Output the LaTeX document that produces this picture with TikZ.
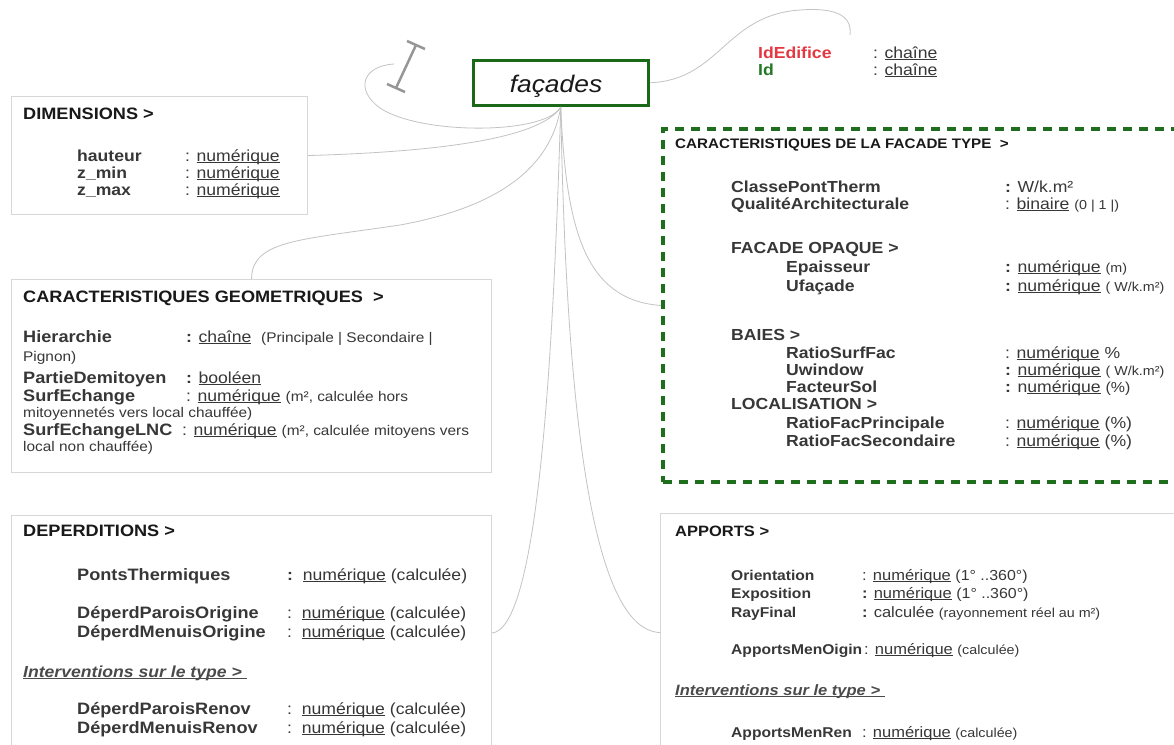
\documentclass[tikz,border=0pt]{standalone}
\usepackage{fontspec}
\setmainfont{Liberation Sans}[FakeStretch=1.1]
\definecolor{fgreen}{RGB}{25,105,25}
\definecolor{ftgreen}{RGB}{30,110,30}
\definecolor{idred}{RGB}{228,55,65}
\definecolor{idgreen}{RGB}{35,120,35}
\definecolor{boxgray}{RGB}{215,215,215}
\definecolor{conngray}{RGB}{195,195,195}
\definecolor{txt}{RGB}{55,55,55}
\definecolor{ttlc}{RGB}{25,25,25}
\definecolor{igray}{RGB}{150,150,150}
\newcommand\ulx[1]{\setbox0\hbox{#1}\rlap{\rule[-2.2pt]{\wd0}{0.9pt}}\box0\relax}
\newcommand\smt[1]{{\fontsize{13}{15}\selectfont #1}}
\newcommand\smb[1]{{\fontsize{14}{16}\selectfont #1}}
\newcommand\mdt[1]{{\fontsize{14.5}{17}\selectfont #1}}
\begin{document}
\begin{tikzpicture}[x=1pt,y=-1pt,
  box/.style={draw=boxgray, line width=1.1pt, inner sep=0pt, anchor=north west},
  conn/.style={draw=conngray, line width=0.8pt},
  t/.style={anchor=base west, inner sep=0pt, text=txt, font=\fontsize{16}{19}\selectfont},
  tb/.style={t, font=\bfseries\fontsize{16}{19}\selectfont},
  tbl/.style={t, font=\bfseries\fontsize{16.5}{19}\selectfont},
  tba/.style={t, font=\bfseries\fontsize{14.2}{17}\selectfont},
  ta/.style={t, font=\fontsize{15}{17}\selectfont},
  ttl/.style={t, text=ttlc, font=\bfseries\fontsize{16.5}{19}\selectfont},
  ttls/.style={t, text=ttlc, font=\bfseries\fontsize{13.8}{17}\selectfont},
  ttla/.style={t, text=ttlc, font=\bfseries\fontsize{15}{17}\selectfont},
  itv/.style={t, text=txt!90, font=\bfseries\itshape\fontsize{16}{19}\selectfont},
  itva/.style={t, text=txt!90, font=\bfseries\itshape\fontsize{15}{17}\selectfont},
  imark/.style={draw=igray, line width=2.5pt},
]
\clip (0,0) rectangle (1174,744);
\fill[white] (0,0) rectangle (1174,744);

% main entity
\node[draw=fgreen, line width=3.5pt, minimum width=175pt, minimum height=45pt, inner sep=0pt, anchor=north west] (fac) at (471.5,58.5) {};
\node[anchor=base, inner sep=0pt, text=ttlc, font=\itshape\fontsize{24}{28}\selectfont] (facl) at (556,92) {façades};

% identifiers
\node[tb, text=idred] (ide) at (758,58) {IdEdifice};
\node[t] (idev) at (873,58) {: \ulx{chaîne}};
\node[tb, text=idgreen] (id) at (758,75) {Id};
\node[t] (idv) at (873,75) {: \ulx{chaîne}};
\coordinate (idend) at (850,35);

% self loop and marker
\coordinate (loopend) at (394,64);
\coordinate (ia) at (416,45);
\coordinate (ib) at (396,88);
\coordinate (ia1) at (407,41);
\coordinate (ia2) at (425,49);
\coordinate (ib1) at (387,84);
\coordinate (ib2) at (405,92);
\draw[imark] (ia) -- (ib);
\draw[imark] (ia1) -- (ia2);
\draw[imark] (ib1) -- (ib2);

% DIMENSIONS
\node[box, minimum width=296pt, minimum height=118pt] (dim) at (11,96) {};
\node[ttl] (dimt) at (23,119) {DIMENSIONS >};
\node[tb] (d1) at (77,161) {hauteur};
\node[tb] (d2) at (77,178) {z\_min};
\node[tb] (d3) at (77,195) {z\_max};
\node[t] (d1v) at (185,161) {: \ulx{numérique}};
\node[t] (d2v) at (185,178) {: \ulx{numérique}};
\node[t] (d3v) at (185,195) {: \ulx{numérique}};

% CARACTERISTIQUES GEOMETRIQUES
\node[box, minimum width=480pt, minimum height=193pt] (cg) at (11,279) {};
\node[ttl] (cgt) at (23,302) {CARACTERISTIQUES GEOMETRIQUES~~>};
\node[tbl] (g1) at (23,342) {Hierarchie};
\node[t] (g1v) at (186,342) {\textbf{:} \ulx{chaîne}~~\smb{(Principale | Secondaire |}};
\node[t] (g1c) at (23,361) {\smb{Pignon)}};
\node[tbl] (g2) at (23,383) {PartieDemitoyen};
\node[t] (g2v) at (186,383) {\textbf{:} \ulx{booléen}};
\node[tbl] (g3) at (23,401) {SurfEchange};
\node[t] (g3v) at (186,401) {: \ulx{numérique} \smb{(m², calculée hors}};
\node[t] (g3c) at (23,417) {\smb{mitoyennetés vers local chauffée)}};
\node[tbl] (g4) at (23,435) {SurfEchangeLNC};
\node[t] (g4v) at (182,435) {: \ulx{numérique} \smb{(m², calculée mitoyens vers}};
\node[t] (g4c) at (23,451) {\smb{local non chauffée)}};

% DEPERDITIONS
\node[box, minimum width=480pt, minimum height=235pt] (dep) at (11,515) {};
\node[ttl] (dept) at (23,536) {DEPERDITIONS >};
\node[tbl] (p1) at (77,580) {PontsThermiques};
\node[t] (p1v) at (287,580) {\textbf{:}~~\ulx{numérique} (calculée)};
\node[tbl] (p2) at (77,618) {DéperdParoisOrigine};
\node[t] (p2v) at (287,618) {:~~\ulx{numérique} (calculée)};
\node[tbl] (p3) at (77,637) {DéperdMenuisOrigine};
\node[t] (p3v) at (287,637) {:~~\ulx{numérique} (calculée)};
\node[itv] (pint) at (23,677) {\ulx{Interventions sur le type >~}};
\node[tbl] (p4) at (77,714) {DéperdParoisRenov};
\node[t] (p4v) at (287,714) {:~~\ulx{numérique} (calculée)};
\node[tbl] (p5) at (77,733) {DéperdMenuisRenov};
\node[t] (p5v) at (287,733) {:~~\ulx{numérique} (calculée)};

% CARACTERISTIQUES DE LA FACADE TYPE
\node[draw=ftgreen, line width=4pt, dash pattern=on 9pt off 7pt, inner sep=0pt, anchor=north west, minimum width=530pt, minimum height=353pt] (ft) at (661,127) {};
\node[ttls] (ftt) at (675,148) {CARACTERISTIQUES DE LA FACADE TYPE~~>};
\node[tb] (f1) at (731,192) {ClassePontTherm};
\node[t] (f1v) at (1005,192) {\textbf{:} W/k.m²};
\node[tb] (f2) at (731,209) {QualitéArchitecturale};
\node[t] (f2v) at (1005,209) {: \ulx{binaire} \smt{(0 | 1 |)}};
\node[tb] (fo) at (731,253) {FACADE OPAQUE >};
\node[tb] (f3) at (786,272) {Epaisseur};
\node[t] (f3v) at (1005,272) {\textbf{:} \ulx{numérique} \smt{(m)}};
\node[tb] (f4) at (786,291) {Ufaçade};
\node[t] (f4v) at (1005,291) {\textbf{:} \ulx{numérique} \smt{( W/k.m²)}};
\node[tb] (fb) at (731,340) {BAIES >};
\node[tb] (f5) at (786,358) {RatioSurfFac};
\node[t] (f5v) at (1005,358) {: \ulx{numérique} \%};
\node[tb] (f6) at (786,375) {Uwindow};
\node[t] (f6v) at (1005,375) {\textbf{:} \ulx{numérique} \smt{( W/k.m²)}};
\node[tb] (f7) at (786,392) {FacteurSol};
\node[t] (f7v) at (1005,392) {\textbf{:} n\ulx{umérique} \mdt{(\%)}};
\node[tb] (fl) at (731,409) {LOCALISATION >};
\node[tb] (f8) at (786,428) {RatioFacPrincipale};
\node[t] (f8v) at (1005,428) {: \ulx{numérique} (\%)};
\node[tb] (f9) at (786,446) {RatioFacSecondaire};
\node[t] (f9v) at (1005,446) {: \ulx{numérique} (\%)};

% APPORTS
\node[box, minimum width=530pt, minimum height=238pt] (app) at (660,513) {};
\node[ttla] (appt) at (675,536) {APPORTS >};
\node[tba] (a1) at (731,580) {Orientation};
\node[ta] (a1v) at (862,580) {: \ulx{numérique} \mdt{(1° ..360°)}};
\node[tba] (a2) at (731,598) {Exposition};
\node[ta] (a2v) at (862,598) {\textbf{:} \ulx{numérique} \mdt{(1° ..360°)}};
\node[tba] (a3) at (731,617) {RayFinal};
\node[ta] (a3v) at (862,617) {\textbf{:} calculée \smt{(rayonnement réel au m²)}};
\node[tba] (a4) at (731,654) {ApportsMenOigin};
\node[ta] (a4v) at (864,654) {: \ulx{numérique} \smt{(calculée)}};
\node[itva] (aint) at (675,695) {\ulx{Interventions sur le type >~}};
\node[tba] (a5) at (731,737) {ApportsMenRen};
\node[ta] (a5v) at (862,737) {: \ulx{numérique} \smt{(calculée)}};

% connectors
\draw[conn] (fac.east) .. controls (720,80) and (725,15) .. (800,10) .. controls (840,7) and (852,18) .. (idend);
\draw[conn] (fac.south) .. controls (545,135) and (420,135) .. (380,108) .. controls (355,90) and (362,66) .. (loopend);
\draw[conn] (dim.east) .. controls (430,152) and (540,140) .. (fac.south);
\draw[conn] (cg.north) .. controls (252,240) and (300,240) .. (400,225) .. controls (510,205) and (552,160) .. (fac.south);
\draw[conn] (fac.south) .. controls (552,400) and (535,628) .. (dep.east);
\draw[conn] (fac.south) .. controls (566,400) and (590,630) .. (app.west);
\draw[conn] (fac.south) .. controls (566,230) and (585,300) .. (ft.west);
\end{tikzpicture}
\end{document}
